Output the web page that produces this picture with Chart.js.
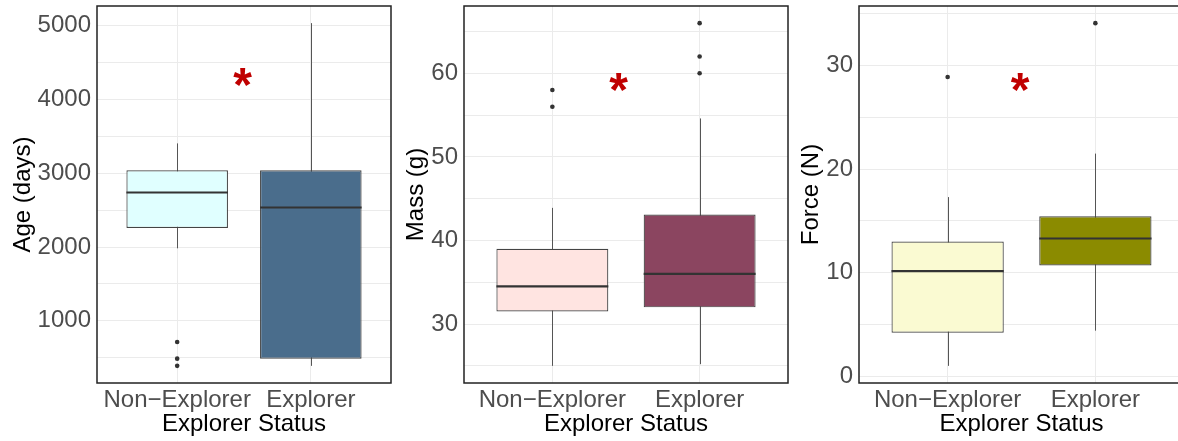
<!DOCTYPE html>
<html>
<head>
<meta charset="utf-8">
<script src="https://cdn.jsdelivr.net/npm/chart.js@4.4.1/dist/chart.umd.min.js"></script>
<style>
  html, body { margin: 0; padding: 0; background: #fff; overflow: hidden; }
  .panel { position: absolute; top: 0; height: 441px; }
</style>
</head>
<body>
<div class="panel" style="left:0px;width:395px"><canvas id="agePanel"></canvas></div>
<div class="panel" style="left:395px;width:397px"><canvas id="massPanel"></canvas></div>
<div class="panel" style="left:792px;width:396px"><canvas id="forcePanel"></canvas></div>
<script>
// groups on the x axis
const groups = ["Non\u2212Explorer", "Explorer"];
const xTitle = "Explorer Status";

// Age (days)
const ageLow = [1982, 388];
const ageQ1 = [2257, 486];
const ageMedian = [2739, 2536];
const ageQ3 = [3040, 3040];
const ageHigh = [3405, 5036];
const ageOutliers = [[712, 486, 388], []];
const ageColors = ["#E0FFFF", "#4A6D8C"];
const ageStar = [0.49, 4284];
const ageTicks = [1000, 2000, 3000, 4000, 5000];

// Mass (g)
const massLow = [25.0, 25.2];
const massQ1 = [31.5, 32.0];
const massMedian = [34.5, 36.0];
const massQ3 = [39.0, 43.1];
const massHigh = [43.9, 54.6];
const massOutliers = [[58, 56], [66, 62, 60]];
const massColors = ["#FFE4E1", "#8B4560"];
const massStar = [0.45, 58.7];
const massTicks = [30, 40, 50, 60];

// Force (N)
const forceLow = [1.0, 4.4];
const forceQ1 = [4.2, 10.7];
const forceMedian = [10.15, 13.3];
const forceQ3 = [13.0, 15.45];
const forceHigh = [17.3, 21.5];
const forceOutliers = [[28.9], [34.1]];
const forceColors = ["#FAFAD2", "#8B8B00"];
const forceStar = [0.49, 28.25];
const forceTicks = [0, 10, 20, 30];

const FONT = '"Liberation Sans", Arial, sans-serif';

// whiskers behind the boxes, medians / star / frame on top
const boxExtras = {
    id: 'boxExtras',
    beforeDatasetsDraw(chart, args, opts) {
        const ctx = chart.ctx, x = chart.scales.x, y = chart.scales.y;
        ctx.save();
        ctx.strokeStyle = '#555';
        ctx.lineWidth = 1;
        opts.low.forEach((lo, i) => {
            const px = Math.round(x.getPixelForValue(i)) + 0.5;
            ctx.beginPath();
            ctx.moveTo(px, y.getPixelForValue(lo));
            ctx.lineTo(px, y.getPixelForValue(opts.high[i]));
            ctx.stroke();
        });
        ctx.restore();
    },
    afterDatasetsDraw(chart, args, opts) {
        const ctx = chart.ctx, y = chart.scales.y, x = chart.scales.x;
        const bars = chart.getDatasetMeta(0).data;
        ctx.save();
        ctx.strokeStyle = '#333';
        ctx.lineWidth = 2.2;
        opts.median.forEach((m, i) => {
            const el = bars[i];
            const py = y.getPixelForValue(m);
            ctx.beginPath();
            ctx.moveTo(el.x - el.width / 2, py);
            ctx.lineTo(el.x + el.width / 2, py);
            ctx.stroke();
        });
        // significance asterisk
        ctx.fillStyle = '#C00000';
        ctx.font = 'bold 48px ' + FONT;
        ctx.textAlign = 'center';
        ctx.textBaseline = 'alphabetic';
        ctx.fillText('*', x.getPixelForValue(opts.star[0]), y.getPixelForValue(opts.star[1]) + 22);
        ctx.restore();
    },
    afterDraw(chart) {
        const a = chart.chartArea, ctx = chart.ctx;
        ctx.save();
        ctx.strokeStyle = '#222';
        ctx.lineWidth = 1.5;
        ctx.strokeRect(a.left, a.top, a.right - a.left, a.bottom - a.top);
        ctx.restore();
    }
};

function makePanel(id, cfg) {
    const all = cfg.low.concat(cfg.high, cfg.outliers.flat());
    const lo = Math.min(...all), hi = Math.max(...all);
    const pad = (hi - lo) * 0.05;
    const ymin = lo - pad, ymax = hi + pad;

    // labelled ticks plus unlabelled minor grid lines half way between them
    const step = cfg.ticks[1] - cfg.ticks[0];
    const gridValues = [];
    for (let v = cfg.ticks[0] - step / 2; v <= ymax; v += step / 2) {
        if (v >= ymin) gridValues.push(v);
    }

    const outlierPoints = [];
    cfg.outliers.forEach((list, i) => list.forEach(v => outlierPoints.push({ x: i, y: v })));

    new Chart(document.getElementById(id), {
        type: 'bar',
        data: {
            datasets: [
                {
                    type: 'bar',
                    data: groups.map((g, i) => ({ x: i, y: [cfg.q1[i], cfg.q3[i]] })),
                    backgroundColor: cfg.colors,
                    borderColor: '#444',
                    borderWidth: 1.2,
                    borderSkipped: false,
                    categoryPercentage: 1,
                    barPercentage: 0.76,
                    order: 2
                },
                {
                    type: 'scatter',
                    data: outlierPoints,
                    backgroundColor: '#333',
                    borderWidth: 0,
                    pointRadius: 2.3,
                    order: 1
                }
            ]
        },
        options: {
            responsive: true,
            maintainAspectRatio: false,
            animation: false,
            layout: { padding: { top: 6, right: 2, bottom: 0, left: 0 } },
            plugins: {
                legend: { display: false },
                tooltip: { enabled: false },
                boxExtras: {
                    low: cfg.low,
                    high: cfg.high,
                    median: cfg.median,
                    star: cfg.star
                }
            },
            scales: {
                x: {
                    type: 'linear',
                    min: -0.6,
                    max: 1.6,
                    offset: false,
                    afterBuildTicks: s => { s.ticks = groups.map((g, i) => ({ value: i })); },
                    afterFit: s => { s.height = 58; s.paddingLeft = 0; s.paddingRight = 0; },
                    grid: { color: '#EBEBEB', drawTicks: false, offset: false },
                    border: { display: false },
                    ticks: {
                        autoSkip: false,
                        maxRotation: 0,
                        padding: 3,
                        color: '#4D4D4D',
                        font: { family: FONT, size: 24 },
                        callback: v => groups[v]
                    },
                    title: {
                        display: true,
                        text: xTitle,
                        color: '#000',
                        padding: { top: 0, bottom: 2 },
                        font: { family: FONT, size: 24 }
                    }
                },
                y: {
                    min: ymin,
                    max: ymax,
                    afterBuildTicks: s => { s.ticks = gridValues.map(v => ({ value: v })); },
                    afterFit: s => { s.width = cfg.axisWidth; s.paddingTop = 0; s.paddingBottom = 0; },
                    grid: { color: '#EBEBEB', drawTicks: false },
                    border: { display: false },
                    ticks: {
                        autoSkip: false,
                        padding: 6,
                        color: '#4D4D4D',
                        font: { family: FONT, size: 24 },
                        callback: v => (cfg.ticks.includes(v) ? String(v) : '')
                    },
                    title: {
                        display: true,
                        text: cfg.title,
                        color: '#000',
                        padding: { top: cfg.titleGap, bottom: 0 },
                        font: { family: FONT, size: 24 }
                    }
                }
            }
        },
        plugins: [boxExtras]
    });
}

makePanel('agePanel', {
    low: ageLow, q1: ageQ1, median: ageMedian, q3: ageQ3, high: ageHigh,
    outliers: ageOutliers, colors: ageColors, star: ageStar, ticks: ageTicks,
    title: 'Age (days)', axisWidth: 97, titleGap: 8.6
});
makePanel('massPanel', {
    low: massLow, q1: massQ1, median: massMedian, q3: massQ3, high: massHigh,
    outliers: massOutliers, colors: massColors, star: massStar, ticks: massTicks,
    title: 'Mass (g)', axisWidth: 69, titleGap: 6.6
});
makePanel('forcePanel', {
    low: forceLow, q1: forceQ1, median: forceMedian, q3: forceQ3, high: forceHigh,
    outliers: forceOutliers, colors: forceColors, star: forceStar, ticks: forceTicks,
    title: 'Force (N)', axisWidth: 67, titleGap: 4.6
});
</script>
</body>
</html>
